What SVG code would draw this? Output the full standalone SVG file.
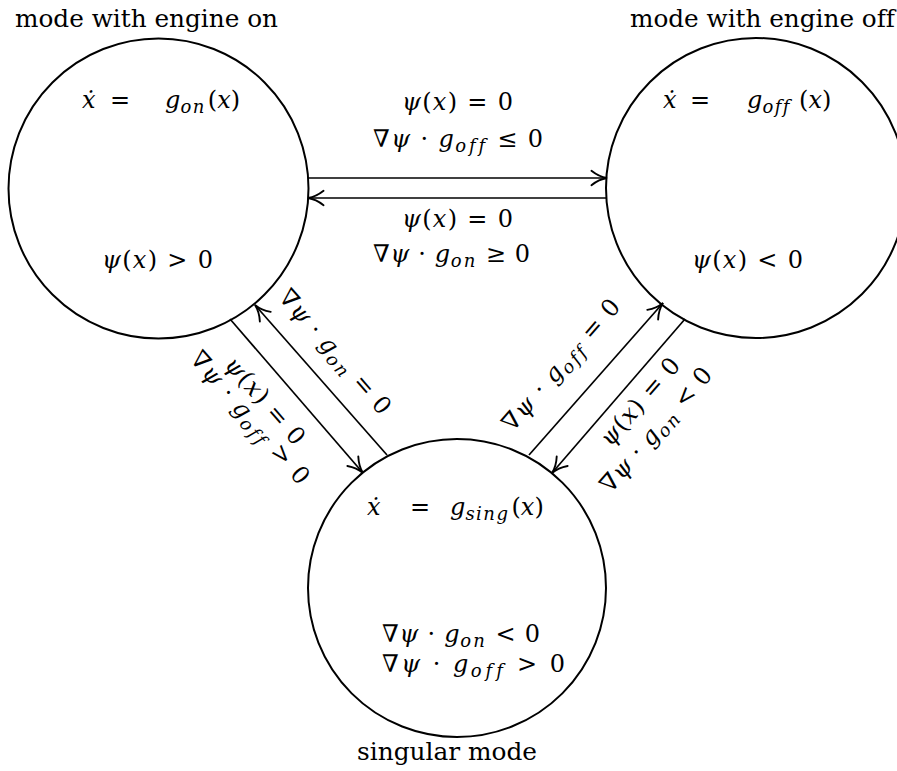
<svg xmlns="http://www.w3.org/2000/svg" width="897" height="771" viewBox="0 0 897 771">
<style>
.t { font-family: 'DejaVu Serif', 'Liberation Serif', serif; font-size: 24px; fill: #000; font-variant-ligatures: none; font-feature-settings: "liga" 0; }
.i { font-style: italic; }
.s { font-size: 18px; letter-spacing: 1.5px; }
.node { fill: none; stroke: #000; stroke-width: 2; }
.edge { fill: none; stroke: #000; stroke-width: 1.7; marker-end: url(#arr); }
</style>
<defs>
<marker id="arr" markerUnits="userSpaceOnUse" markerWidth="20" markerHeight="20" viewBox="-16 -8 18 16" refX="0" refY="0" orient="auto">
<path d="M -14,-6.5 C -9,-2.5 -4,-0.6 0,0 C -4,0.6 -9,2.5 -14,6.5" fill="none" stroke="#000" stroke-width="1.7" stroke-linecap="round"/>
</marker>
</defs>
<rect width="897" height="771" fill="#fff"/>

<g id="node-on">
<circle class="node" cx="158.5" cy="188.5" r="150"/>
<text class="t" x="15" y="27" textLength="263" lengthAdjust="spacingAndGlyphs">mode with engine on</text>
<text class="t" y="108"><tspan x="82" class="i">ẋ</tspan><tspan x="110">=</tspan><tspan x="165" class="i">g</tspan><tspan class="i s" dy="5">on</tspan><tspan dx="2" dy="-5">(</tspan><tspan class="i">x</tspan>)</text>
<text class="t" x="102" y="268" textLength="111" lengthAdjust="spacing"><tspan class="i">ψ</tspan>(<tspan class="i">x</tspan>) &gt; 0</text>
</g>

<g id="node-off">
<circle class="node" cx="756" cy="188" r="150"/>
<text class="t" x="630" y="27" textLength="265" lengthAdjust="spacingAndGlyphs">mode with engine off</text>
<text class="t" y="108"><tspan x="663" class="i">ẋ</tspan><tspan x="690">=</tspan><tspan x="747" class="i">g</tspan><tspan class="i s" dy="5">off</tspan><tspan x="799" dy="-5">(</tspan><tspan class="i">x</tspan>)</text>
<text class="t" x="692" y="268" textLength="111" lengthAdjust="spacing"><tspan class="i">ψ</tspan>(<tspan class="i">x</tspan>) &lt; 0</text>
</g>

<g id="node-sing">
<circle class="node" cx="457" cy="588" r="149"/>
<text class="t" y="515"><tspan x="367" class="i">ẋ</tspan><tspan x="410">=</tspan><tspan x="450" class="i">g</tspan><tspan class="i s" dy="5">sing</tspan><tspan dx="2" dy="-5">(</tspan><tspan class="i">x</tspan>)</text>
<text class="t" x="382" y="642" textLength="158" lengthAdjust="spacing">∇<tspan class="i">ψ</tspan> · <tspan class="i">g</tspan><tspan class="i s" dy="5">on</tspan><tspan dy="-5"> &lt; 0</tspan></text>
<text class="t" x="382" y="672" textLength="183" lengthAdjust="spacing">∇<tspan class="i">ψ</tspan> · <tspan class="i">g</tspan><tspan class="i s" dy="5">off</tspan><tspan dy="-5"> &gt;  0</tspan></text>
<text class="t" x="357" y="760" textLength="180" lengthAdjust="spacingAndGlyphs">singular mode</text>
</g>

<g id="connectors">
<line class="edge" x1="308" y1="178" x2="607" y2="178"/>
<line class="edge" x1="607" y1="198" x2="308" y2="198"/>
<line class="edge" x1="387" y1="455" x2="255" y2="305"/>
<line class="edge" x1="230" y1="319" x2="363" y2="473"/>
<line class="edge" x1="529" y1="455" x2="663" y2="303"/>
<line class="edge" x1="685" y1="319" x2="552" y2="473"/>
</g>

<g id="edge-labels">
<text class="t" x="402" y="110" textLength="111" lengthAdjust="spacing"><tspan class="i">ψ</tspan>(<tspan class="i">x</tspan>) = 0</text>
<text class="t" x="373" y="147" textLength="170" lengthAdjust="spacing">∇<tspan class="i">ψ</tspan> · <tspan class="i">g</tspan><tspan class="i s" dy="5">off</tspan><tspan dy="-5"> ≤ 0</tspan></text>
<text class="t" x="402" y="227" textLength="111" lengthAdjust="spacing"><tspan class="i">ψ</tspan>(<tspan class="i">x</tspan>) = 0</text>
<text class="t" x="373" y="262" textLength="157" lengthAdjust="spacing">∇<tspan class="i">ψ</tspan> · <tspan class="i">g</tspan><tspan class="i s" dy="5">on</tspan><tspan dy="-5"> ≥ 0</tspan></text>

<text class="t" text-anchor="middle" transform="translate(329,357) rotate(49)" textLength="157" lengthAdjust="spacing">∇<tspan class="i">ψ</tspan> · <tspan class="i">g</tspan><tspan class="i s" dy="5">on</tspan><tspan dy="-5">  = 0</tspan></text>
<text class="t" text-anchor="middle" transform="translate(259,406) rotate(49)" textLength="108" lengthAdjust="spacing"><tspan class="i">ψ</tspan>(<tspan class="i">x</tspan>) = 0</text>
<text class="t" text-anchor="middle" transform="translate(244,423) rotate(49)" textLength="168" lengthAdjust="spacing">∇<tspan class="i">ψ</tspan> · <tspan class="i">g</tspan><tspan class="i s" dy="5">off</tspan><tspan dy="-5"> &gt; 0</tspan></text>

<text class="t" text-anchor="middle" transform="translate(567,370) rotate(-49)" textLength="166" lengthAdjust="spacing">∇<tspan class="i">ψ</tspan> · <tspan class="i">g</tspan><tspan class="i s" dy="5">off</tspan><tspan dy="-5"> = 0</tspan></text>
<text class="t" text-anchor="middle" transform="translate(646,407) rotate(-49)" textLength="108" lengthAdjust="spacing"><tspan class="i">ψ</tspan>(<tspan class="i">x</tspan>) = 0</text>
<text class="t" text-anchor="middle" transform="translate(662,435) rotate(-49)" textLength="157" lengthAdjust="spacing">∇<tspan class="i">ψ</tspan> · <tspan class="i">g</tspan><tspan class="i s" dy="5">on</tspan><tspan dy="-5"> &lt; 0</tspan></text>
</g>
</svg>
